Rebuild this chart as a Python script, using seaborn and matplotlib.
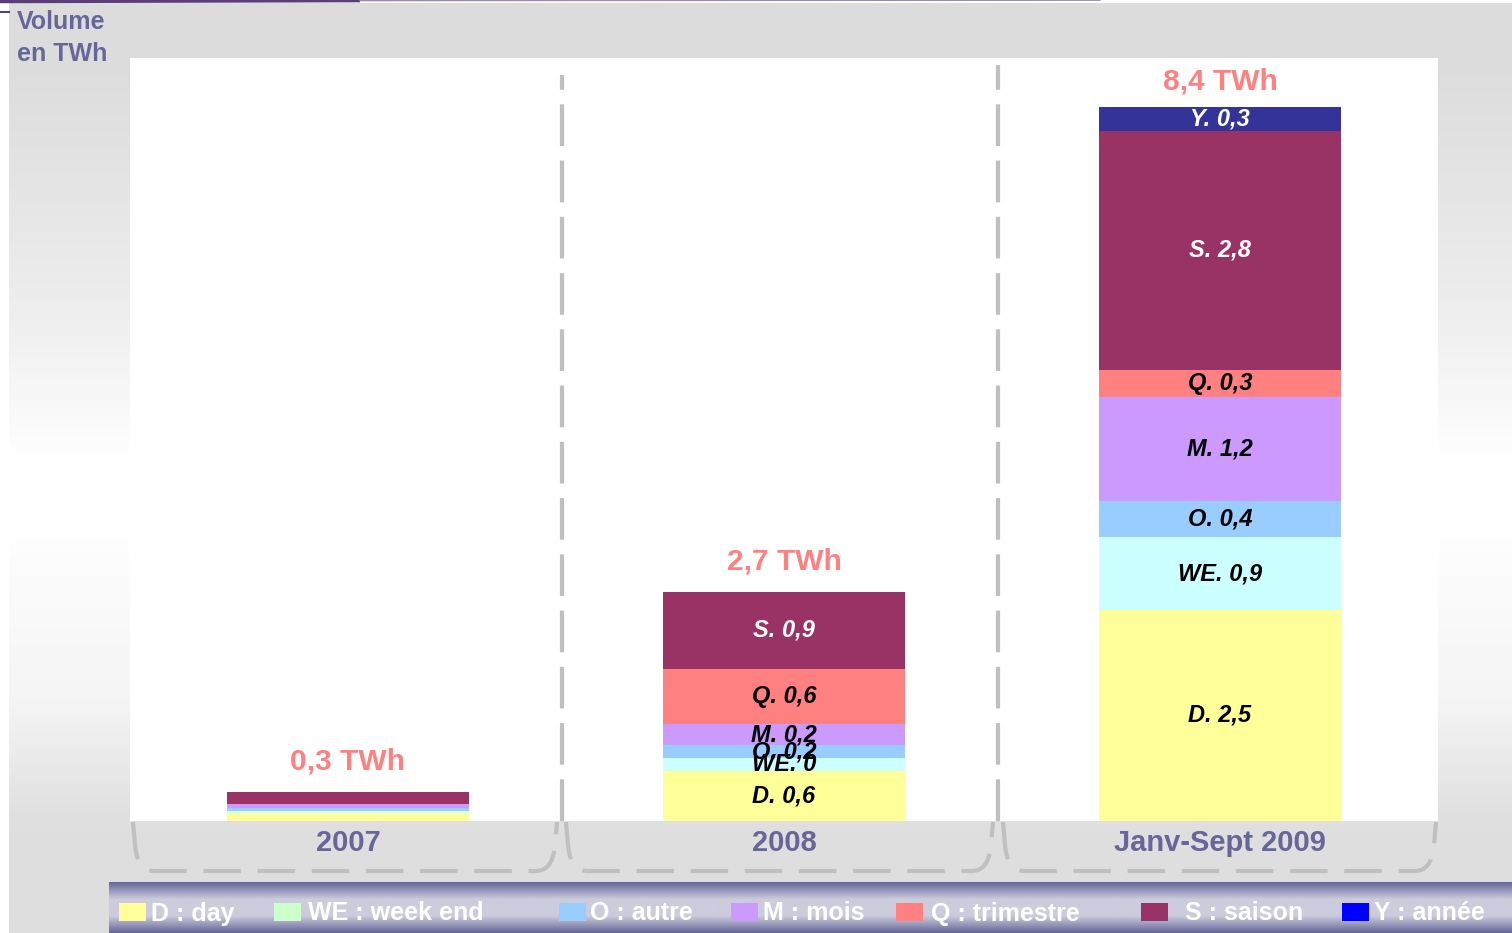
import numpy as np
import pandas as pd
import matplotlib
matplotlib.use("Agg")
import matplotlib.pyplot as plt
import seaborn as sns
from matplotlib.path import Path
from matplotlib.patches import PathPatch, Rectangle
from matplotlib.colors import LinearSegmentedColormap

# ---------------- data ----------------
categories = ["2007", "2008", "Janv-Sept 2009"]
segments = ["D", "WE", "O", "M", "Q", "S", "Y"]
D_vals = [0.10, 0.59, 2.50]
WE_vals = [0.016, 0.154, 0.86]
O_vals = [0.04, 0.154, 0.43]
M_vals = [0.044, 0.25, 1.23]
Q_vals = [0.0, 0.65, 0.32]
S_vals = [0.142, 0.92, 2.84]
Y_vals = [0.0, 0.0, 0.28]
totals_text = ["0,3 TWh", "2,7 TWh", "8,4 TWh"]
seg_labels = {
    "2007": ["", "", "", "", "", "", ""],
    "2008": ["D. 0,6", "WE. 0", "O. 0,2", "M. 0,2", "Q. 0,6", "S. 0,9", ""],
    "Janv-Sept 2009": ["D. 2,5", "WE. 0,9", "O. 0,4", "M. 1,2", "Q. 0,3", "S. 2,8", "Y. 0,3"],
}
bar_colors = ["#FFFF99", "#CCFFFF", "#99CCFF", "#CC99FF", "#FF8080", "#993366", "#333399"]
label_colors = ["black", "black", "black", "black", "black", "white", "white"]
legend_labels = ["D : day", "WE : week end", "O : autre", "M : mois",
                 "Q : trimestre", "S : saison", "Y : année"]
legend_colors = ["#FFFF99", "#CCFFCC", "#99CCFF", "#CC99FF", "#FF8080", "#993366", "#0000FF"]

values = np.array([D_vals, WE_vals, O_vals, M_vals, Q_vals, S_vals, Y_vals])
df = pd.DataFrame(values.T, index=categories, columns=segments)
cum = df.cumsum(axis=1)

W, H = 1512, 933
FONT = "Liberation Sans"
plt.rcParams["font.family"] = [FONT, "DejaVu Sans"]

fig = plt.figure(figsize=(W / 100, H / 100), dpi=100)
fig.patch.set_facecolor("white")

# ---------------- background (pixel coordinates) ----------------
bg = fig.add_axes([0, 0, 1, 1], zorder=0)
bg.set_xlim(0, W)
bg.set_ylim(H, 0)
bg.axis("off")

ys = np.arange(H)
g = np.interp(ys, [0, 60, 300, 460, 520, 700, 820, 933],
              [0.863, 0.863, 0.93, 1.0, 1.0, 0.96, 0.875, 0.87])
grad = np.repeat(g[:, None], 2, axis=1)
bg.imshow(np.dstack([grad, grad, grad]), extent=[9, W, H, 3], aspect="auto",
          interpolation="bilinear", zorder=0)

# purple swoosh at top-left
bg.plot([0, 360], [1.5, 0.6], color="#5B3D7A", lw=2.5, zorder=1, solid_capstyle="butt")
bg.plot([360, 1100], [0.6, 0.2], color="#9A88B0", lw=1.0, zorder=1)
bg.plot([0, 9], [12, 12], color="#5B3D7A", lw=1.5, zorder=1)

# legend band gradient
bcmap = LinearSegmentedColormap.from_list("band", ["#666699", "#CCCCDD", "#CCCCDD", "#666699"])
band = np.linspace(0, 1, 60)[:, None]
bg.imshow(band, cmap=bcmap, extent=[109, W, H, 882], aspect="auto",
          interpolation="bilinear", zorder=2)

# dashed brackets below categories
def bracket(xl, xr, ytop=822, ybot=871):
    verts = [(xl, ytop), (xl + 2, 845),
             (xl + 4, 866), (xl + 12, ybot), (xl + 22, ybot),
             (xr - 22, ybot),
             (xr - 12, ybot), (xr - 4, 866), (xr - 2, 845),
             (xr, ytop)]
    codes = [Path.MOVETO, Path.LINETO,
             Path.CURVE4, Path.CURVE4, Path.CURVE4,
             Path.LINETO,
             Path.CURVE4, Path.CURVE4, Path.CURVE4,
             Path.LINETO]
    p = PathPatch(Path(verts, codes), fill=False, edgecolor="#C0C0C0", lw=3.0,
                  linestyle=(0, (9, 4)), zorder=3, capstyle="butt")
    bg.add_patch(p)

for xl, xr in [(133, 557), (566, 993), (1003, 1436)]:
    bracket(xl, xr)

# y-axis title
bg.text(17, 22, "Volume", color="#666699", fontsize=18, fontweight="bold",
        va="center", ha="left", zorder=4)
bg.text(17, 54, "en TWh", color="#666699", fontsize=18, fontweight="bold",
        va="center", ha="left", zorder=4)

# legend
patch_x = [119, 274, 559, 731, 896, 1141, 1342]
text_x = [151, 308, 590, 763, 931, 1185, 1374]
for px, tx, lab, col in zip(patch_x, text_x, legend_labels, legend_colors):
    bg.add_patch(Rectangle((px, 903), 27, 18, facecolor=col, edgecolor="none", zorder=4))
    bg.text(tx, 913.5, lab, color="white", fontsize=18, fontweight="bold",
            va="center", ha="left", zorder=4)

# ---------------- main chart ----------------
ax = fig.add_axes([130 / W, 1 - 821 / H, (1438 - 130) / W, (821 - 58) / H], zorder=1)
ax.set_facecolor("white")

plot_df = cum.reset_index().rename(columns={"index": "cat"})
for seg, col in zip(segments[::-1], bar_colors[::-1]):
    sns.barplot(data=plot_df, x="cat", y=seg, order=categories, color=col,
                saturation=1, width=0.557, linewidth=0, errorbar=None, ax=ax)

ax.set_xlim(-0.5, 2.5)
ax.set_ylim(0, 9.04)
for s in ax.spines.values():
    s.set_visible(False)
ax.set_yticks([])
ax.set_xlabel("")
ax.set_ylabel("")
ax.tick_params(axis="x", length=0, pad=6)
ax.set_xticks(range(len(categories)))
ax.set_xticklabels(categories, color="#666699", fontsize=21, fontweight="bold")
for lbl, dx in zip(ax.get_xticklabels(), [-1, -5, -4]):
    lbl.set_x(lbl.get_position()[0])

# segment labels
total_offsets = [22, 22, 18]
for i, cat in enumerate(categories):
    lows = cum.loc[cat].values - df.loc[cat].values
    highs = cum.loc[cat].values
    for j, lab in enumerate(seg_labels[cat]):
        if not lab:
            continue
        yc = (lows[j] + highs[j]) / 2
        ax.text(i, yc, lab, ha="center", va="center", fontsize=17,
                fontweight="bold", fontstyle="italic", color=label_colors[j])
    ax.annotate(totals_text[i], xy=(i, highs[-1]), xytext=(0, total_offsets[i]),
                textcoords="offset points", ha="center", va="center",
                fontsize=21.5, fontweight="bold", color="#FF8080",
                annotation_clip=False)

# dashed separators
ax.plot([0.49, 0.49], [0, 8.84], color="#BFBFBF", lw=3, linestyle=(0, (10, 3.5)),
        clip_on=False, zorder=0.5)
ax.plot([1.49, 1.49], [0, 8.96], color="#BFBFBF", lw=3, linestyle=(0, (10, 3.5)),
        clip_on=False, zorder=0.5)

fig.savefig("out.png", dpi=100, facecolor=fig.get_facecolor())
